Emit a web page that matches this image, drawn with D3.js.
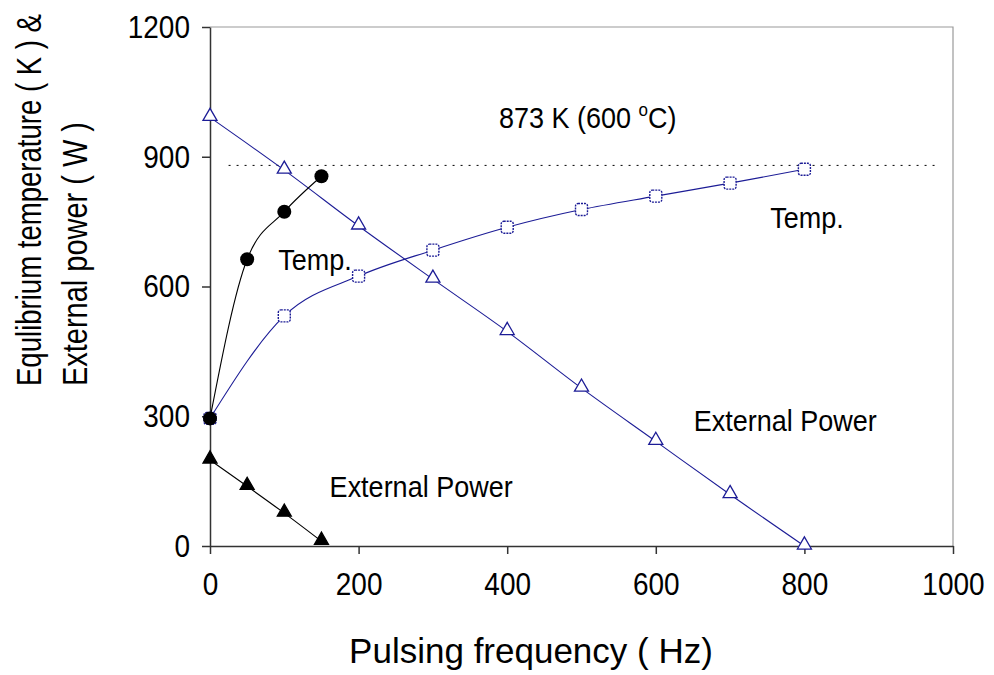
<!DOCTYPE html>
<html><head><meta charset="utf-8">
<script src="https://cdn.jsdelivr.net/npm/d3@7"></script>
<style>body{margin:0;background:#fff}svg{display:block}text{font-family:"Liberation Sans",Arial,sans-serif}</style>
</head><body><svg id="c" width="994" height="675"></svg>
<script>
const xTicks = [0, 200, 400, 600, 800, 1000];
const yTicks = [0, 300, 600, 900, 1200];

const freqBlack = [0, 50, 100, 150];
const tempBlack = [295, 663, 773, 855];
const powerBlack = [199, 138, 76, 11];

const freqBlue = [0, 100, 200, 300, 400, 500, 600, 700, 800];
const tempBlue = [295, 532, 624, 684, 737, 778, 809, 839, 871];
const powerBlue = [991, 869, 740, 617, 496, 365, 242, 119, 0];

const refLevel = 880;
const refRange = [25, 983];

const labels = [
  {text: "Temp.", x: 92, y: 638},
  {text: "Temp.", x: 754, y: 735},
  {text: "External Power", x: 161, y: 113},
  {text: "External Power", x: 651, y: 266}
];

const svg = d3.select("#c");
const x = d3.scaleLinear().domain([0, 1000]).range([210, 953]);
const y = d3.scaleLinear().domain([0, 1200]).range([546, 27]);
const blue = "#1c1c96";
const FONT = '"Liberation Sans",Arial,sans-serif';

// plot border (top, right)
svg.append("path").attr("d", `M${x(0)},${y(1200)}H${x(1000)}V${y(0)}`)
  .attr("fill", "none").attr("stroke", "#9a9a9a").attr("stroke-width", 1.2);

// axes
const xa = svg.append("g").attr("transform", `translate(0,${y(0)})`)
  .call(d3.axisBottom(x).tickValues(xTicks).tickFormat(d3.format("d")).tickSize(8).tickPadding(15).tickSizeOuter(0));
const ya = svg.append("g").attr("transform", `translate(${x(0)},0)`)
  .call(d3.axisLeft(y).tickValues(yTicks).tickFormat(d3.format("d")).tickSize(8).tickPadding(12).tickSizeOuter(0));
[xa, ya].forEach(a => {
  a.attr("font-size", 28).attr("font-family", FONT);
  a.selectAll("path,line").attr("stroke", "#333").attr("stroke-width", 1.5);
  a.selectAll("text").attr("fill", "#000").attr("transform", "scale(1,1.15)");
});

// reference dotted line
svg.append("line").attr("x1", x(refRange[0])).attr("x2", x(refRange[1]))
  .attr("y1", y(refLevel)).attr("y2", y(refLevel))
  .attr("stroke", "#000").attr("stroke-width", 1).attr("stroke-dasharray", "2,6");

const line = d3.line().x(d => x(d[0])).y(d => y(d[1])).curve(d3.curveMonotoneX);
const z = (a, b) => a.map((v, i) => [v, b[i]]);

function drawLine(data, color) {
  svg.append("path").datum(data).attr("d", line)
    .attr("fill", "none").attr("stroke", color).attr("stroke-width", 1.1);
}
drawLine(z(freqBlue, powerBlue), blue);
drawLine(z(freqBlue, tempBlue), blue);
drawLine(z(freqBlack, tempBlack), "#000");
drawLine(z(freqBlack, powerBlack), "#000");

const tri = d3.symbol().type(d3.symbolTriangle).size(85);
function triangles(data, fill, stroke) {
  svg.append("g").selectAll("path").data(data).join("path")
    .attr("d", tri).attr("transform", d => `translate(${x(d[0])},${y(d[1]) - 1})`)
    .attr("fill", fill).attr("stroke", stroke).attr("stroke-width", 1.3);
}
triangles(z(freqBlue, powerBlue), "#fff", blue);
triangles(z(freqBlack, powerBlack), "#000", "#000");

svg.append("g").selectAll("rect").data(z(freqBlue, tempBlue)).join("rect")
  .attr("x", d => x(d[0]) - 6).attr("y", d => y(d[1]) - 6)
  .attr("width", 12).attr("height", 12).attr("rx", 2.5)
  .attr("fill", "#fff").attr("stroke", blue).attr("stroke-width", 1.4)
  .attr("stroke-dasharray", "2,1");

svg.append("g").selectAll("circle").data(z(freqBlack, tempBlack)).join("circle")
  .attr("cx", d => x(d[0])).attr("cy", d => y(d[1])).attr("r", 7)
  .attr("fill", "#000");

// text labels
svg.append("g").selectAll("text").data(labels).join("text")
  .attr("transform", d => `translate(${x(d.x)},${y(d.y)}) scale(1,1.1)`)
  .attr("font-size", 27).attr("fill", "#000")
  .text(d => d.text);

const ref = svg.append("text").attr("transform", "translate(499,128) scale(1,1.1)").attr("font-size", 27);
ref.append("tspan").text("873 K (600 ");
ref.append("tspan").attr("font-size", 17).attr("dy", -11).text("o");
ref.append("tspan").attr("dy", 11).text("C)");

// axis titles
svg.append("text").attr("x", 531).attr("y", 663).attr("text-anchor", "middle")
  .attr("font-size", 35).text("Pulsing frequency ( Hz)");
const yt = svg.append("text").attr("transform", "translate(0,386) rotate(-90) scale(1,1.26)")
  .attr("font-size", 27.5);
yt.append("tspan").attr("x", 0).attr("y", 32.5).attr("textLength", 372).attr("lengthAdjust", "spacingAndGlyphs").text("Equlibrium temperature ( K ) &");
yt.append("tspan").attr("x", 0).attr("y", 69).attr("textLength", 264).attr("lengthAdjust", "spacingAndGlyphs").text("External power ( W )");
</script></body></html>
